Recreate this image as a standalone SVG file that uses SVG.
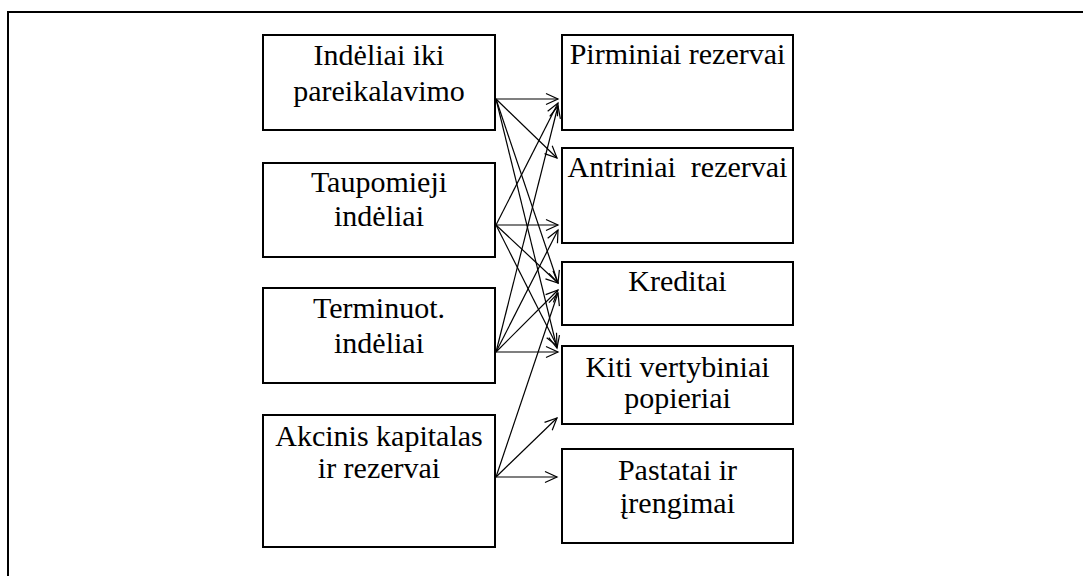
<svg xmlns="http://www.w3.org/2000/svg" width="1083" height="576" viewBox="0 0 1083 576">
<style>
.box{fill:#fff;stroke:#000;stroke-width:2}
.t{font-size:30px;fill:#000;text-anchor:middle;white-space:pre}
.c{fill:none;stroke:#000;stroke-width:1.2;marker-end:url(#ah)}
</style>
<defs>
<marker id="ah" markerUnits="userSpaceOnUse" markerWidth="14" markerHeight="12" refX="12" refY="6" orient="auto" overflow="visible">
<path d="M0,0.5 L12,6 L0,11.5" fill="none" stroke="#000" stroke-width="1.2"/>
</marker>
</defs>
<rect x="8" y="12" width="1200" height="700" fill="none" stroke="#000" stroke-width="2"/>
<g font-family="Liberation Serif, Tinos, Times New Roman, Times, DejaVu Serif, serif">
<g id="n1"><rect class="box" x="263" y="35" width="232" height="95"/><text class="t" x="379" y="65">Indėliai iki</text><text class="t" x="379" y="101">pareikalavimo</text></g>
<g id="n2"><rect class="box" x="263" y="163" width="232" height="94"/><text class="t" x="379" y="192">Taupomieji</text><text class="t" x="379" y="226">indėliai</text></g>
<g id="n3"><rect class="box" x="263" y="288" width="232" height="95"/><text class="t" x="379" y="318">Terminuot.</text><text class="t" x="379" y="353">indėliai</text></g>
<g id="n4"><rect class="box" x="263" y="415" width="232" height="132"/><text class="t" x="379" y="446">Akcinis kapitalas</text><text class="t" x="379" y="478">ir rezervai</text></g>
<g id="m1"><rect class="box" x="562" y="35" width="231" height="95"/><text class="t" x="677.5" y="64">Pirminiai rezervai</text></g>
<g id="m2"><rect class="box" x="562" y="148" width="231" height="95"/><text class="t" x="677.5" y="177">Antriniai  rezervai</text></g>
<g id="m3"><rect class="box" x="562" y="262" width="231" height="63"/><text class="t" x="677.5" y="291">Kreditai</text></g>
<g id="m4"><rect class="box" x="562" y="346" width="231" height="78"/><text class="t" x="677.5" y="377">Kiti vertybiniai</text><text class="t" x="677.5" y="408">popieriai</text></g>
<g id="m5"><rect class="box" x="562" y="449" width="231" height="94"/><text class="t" x="677.5" y="480">Pastatai ir</text><text class="t" x="677.5" y="513">įrengimai</text></g>
</g>
<g id="connectors">
<line class="c" x1="496" y1="99" x2="558" y2="99"/>
<line class="c" x1="496" y1="99" x2="557" y2="158"/>
<line class="c" x1="496" y1="99" x2="558" y2="283"/>
<line class="c" x1="496" y1="99" x2="557" y2="348"/>
<line class="c" x1="496" y1="225" x2="558" y2="103"/>
<line class="c" x1="496" y1="225" x2="558" y2="225"/>
<line class="c" x1="496" y1="225" x2="558" y2="283"/>
<line class="c" x1="496" y1="225" x2="557" y2="346"/>
<line class="c" x1="496" y1="352" x2="558" y2="106"/>
<line class="c" x1="496" y1="352" x2="558" y2="230"/>
<line class="c" x1="496" y1="352" x2="558" y2="290"/>
<line class="c" x1="496" y1="352" x2="558" y2="352"/>
<line class="c" x1="496" y1="477" x2="558" y2="293"/>
<line class="c" x1="496" y1="477" x2="557" y2="418"/>
<line class="c" x1="496" y1="477" x2="557" y2="477"/>
</g>
</svg>
